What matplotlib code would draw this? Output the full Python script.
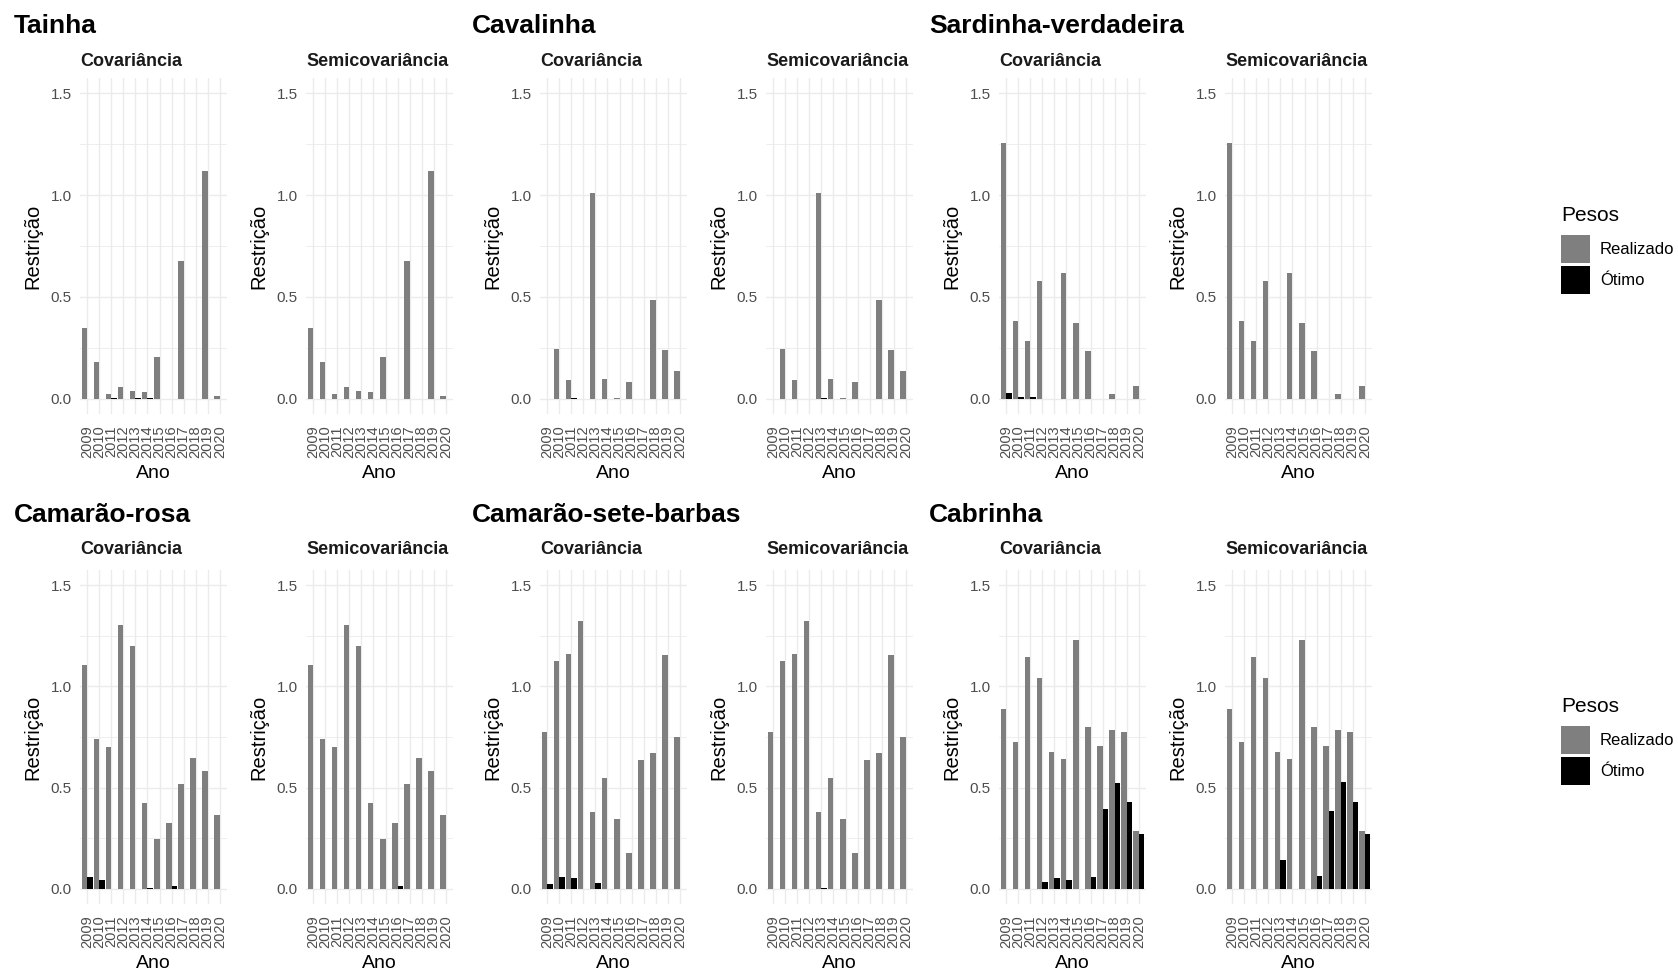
import matplotlib
matplotlib.use("Agg")
import matplotlib.pyplot as plt
import numpy as np
from matplotlib.patches import Patch

plt.rcParams['font.family'] = ['Liberation Sans', 'DejaVu Sans']

years = ["2009", "2010", "2011", "2012", "2013", "2014", "2015", "2016", "2017", "2018", "2019", "2020"]
species = ["Tainha", "Cavalinha", "Sardinha-verdadeira",
           "Camarão-rosa", "Camarão-sete-barbas", "Cabrinha"]
panels = ["Covariância", "Semicovariância"]
series_names = ["Realizado", "Ótimo"]

tainha_realizado = [0.345, 0.178, 0.025, 0.057, 0.039, 0.032, 0.205, 0.0, 0.676, 0.0, 1.116, 0.011]
tainha_otimo_cov = [0, 0, 0.005, 0, 0.005, 0.005, 0, 0, 0, 0, 0, 0]
tainha_otimo_semi = [0, 0, 0, 0, 0, 0, 0, 0, 0, 0, 0, 0]

cavalinha_realizado = [0, 0.245, 0.090, 0, 1.010, 0.098, 0.004, 0.083, 0, 0.483, 0.237, 0.137]
cavalinha_otimo_cov = [0, 0, 0.004, 0, 0, 0, 0, 0, 0, 0, 0, 0]
cavalinha_otimo_semi = [0, 0, 0, 0, 0.004, 0, 0, 0, 0, 0, 0, 0]

sardinha_realizado = [1.255, 0.383, 0.285, 0.576, 0, 0.617, 0.372, 0.232, 0, 0.025, 0, 0.064]
sardinha_otimo_cov = [0.028, 0.008, 0.008, 0, 0, 0, 0, 0, 0, 0, 0, 0]
sardinha_otimo_semi = [0, 0, 0, 0, 0, 0, 0, 0, 0, 0, 0, 0]

rosa_realizado = [1.108, 0.738, 0.702, 1.303, 1.198, 0.424, 0.245, 0.326, 0.517, 0.645, 0.584, 0.363]
rosa_otimo_cov = [0.057, 0.044, 0, 0, 0, 0.003, 0, 0.015, 0, 0, 0, 0]
rosa_otimo_semi = [0, 0, 0, 0, 0, 0, 0, 0.012, 0, 0, 0, 0]

setebarbas_realizado = [0.777, 1.124, 1.162, 1.324, 0.380, 0.545, 0.345, 0.178, 0.637, 0.671, 1.157, 0.751]
setebarbas_otimo_cov = [0.023, 0.057, 0.052, 0, 0.031, 0, 0, 0, 0, 0, 0, 0]
setebarbas_otimo_semi = [0, 0, 0, 0, 0.003, 0, 0, 0, 0, 0, 0, 0]

cabrinha_realizado = [0.890, 0.723, 1.144, 1.043, 0.676, 0.643, 1.229, 0.797, 0.704, 0.784, 0.777, 0.288]
cabrinha_otimo_cov = [0, 0, 0, 0.036, 0.051, 0.044, 0, 0.057, 0.396, 0.522, 0.429, 0.270]
cabrinha_otimo_semi = [0, 0, 0, 0, 0.142, 0, 0, 0.064, 0.383, 0.530, 0.429, 0.270]

data = {
    "Tainha": (tainha_realizado, tainha_otimo_cov, tainha_otimo_semi),
    "Cavalinha": (cavalinha_realizado, cavalinha_otimo_cov, cavalinha_otimo_semi),
    "Sardinha-verdadeira": (sardinha_realizado, sardinha_otimo_cov, sardinha_otimo_semi),
    "Camarão-rosa": (rosa_realizado, rosa_otimo_cov, rosa_otimo_semi),
    "Camarão-sete-barbas": (setebarbas_realizado, setebarbas_otimo_cov, setebarbas_otimo_semi),
    "Cabrinha": (cabrinha_realizado, cabrinha_otimo_cov, cabrinha_otimo_semi),
}

W, H = 1678, 973
fig = plt.figure(figsize=(W / 100, H / 100), dpi=100)
fig.patch.set_facecolor("white")

GRAY = "#7F7F7F"
BLACK = "#000000"
GRID = "#EBEBEB"
TICKC = "#4D4D4D"

block_left = [80, 540, 999]
semi_offset = 226
panel_w = 147
row_top = [78, 570]
row_bot = [414, 904]
title_y = [26, 515]
title_x = [14, 472, 929]
strip_y = [62, 550]
ano_y = [474, 963]
legend_top = [206, 697]


def fx(px):
    return px / W


def fy(py):
    return 1 - py / H


x = np.arange(len(years))
bw = 0.45

for i, sp in enumerate(species):
    r, c = divmod(i, 3)
    real, ot_cov, ot_semi = data[sp]
    fig.text(fx(title_x[c]), fy(title_y[r]), sp, fontsize=19, fontweight="bold",
             ha="left", va="center")
    for j, pname in enumerate(panels):
        left = block_left[c] + j * semi_offset
        ax = fig.add_axes([fx(left), fy(row_bot[r]), panel_w / W,
                           (row_bot[r] - row_top[r]) / H])
        ot = ot_cov if j == 0 else ot_semi
        ax.bar(x - bw / 2, real, width=bw, color=GRAY, zorder=3, linewidth=0)
        ax.bar(x + bw / 2, ot, width=bw, color=BLACK, zorder=3, linewidth=0)
        ax.set_xlim(-0.6, len(years) - 1 + 0.6)
        ax.set_ylim(-0.075, 1.575)
        ax.set_yticks([0, 0.5, 1.0, 1.5])
        ax.set_yticklabels(["0.0", "0.5", "1.0", "1.5"])
        ax.set_yticks([0.25, 0.75, 1.25], minor=True)
        ax.set_xticks(x)
        ax.set_xticklabels(years, rotation=90)
        ax.grid(True, which="major", color=GRID, linewidth=1.0, zorder=0)
        ax.grid(True, which="minor", axis="y", color=GRID, linewidth=0.6, zorder=0)
        ax.set_axisbelow(True)
        for s in ax.spines.values():
            s.set_visible(False)
        ax.tick_params(axis="both", which="both", length=0, colors=TICKC)
        ax.tick_params(axis="y", labelsize=11, pad=6)
        ax.tick_params(axis="x", labelsize=10.5, pad=8)
        ax.set_facecolor("white")
        fig.text(fx(left), fy(strip_y[r]), pname, fontsize=13,
                 fontweight="bold", ha="left", va="center", color="#1A1A1A")
        fig.text(fx(left - 47), fy((row_top[r] + row_bot[r]) / 2), "Restrição",
                 fontsize=14.5, rotation=90, ha="center", va="center")
        fig.text(fx(left + panel_w / 2), fy(ano_y[r]), "Ano", fontsize=14,
                 ha="center", va="center")

for r in range(2):
    handles = [Patch(facecolor=GRAY, edgecolor="none"),
               Patch(facecolor=BLACK, edgecolor="none")]
    leg = fig.legend(handles, series_names, title="Pesos", loc="upper left",
                     bbox_to_anchor=(fx(1561), fy(legend_top[r])), frameon=False,
                     fontsize=12, title_fontsize=15, handlelength=1.74,
                     handleheight=2.21, labelspacing=0.2, handletextpad=0.6,
                     borderaxespad=0, borderpad=0)
    leg._legend_box.align = "left"
    leg._legend_box.sep = 7

fig.savefig("out.png", dpi=100, facecolor="white")
